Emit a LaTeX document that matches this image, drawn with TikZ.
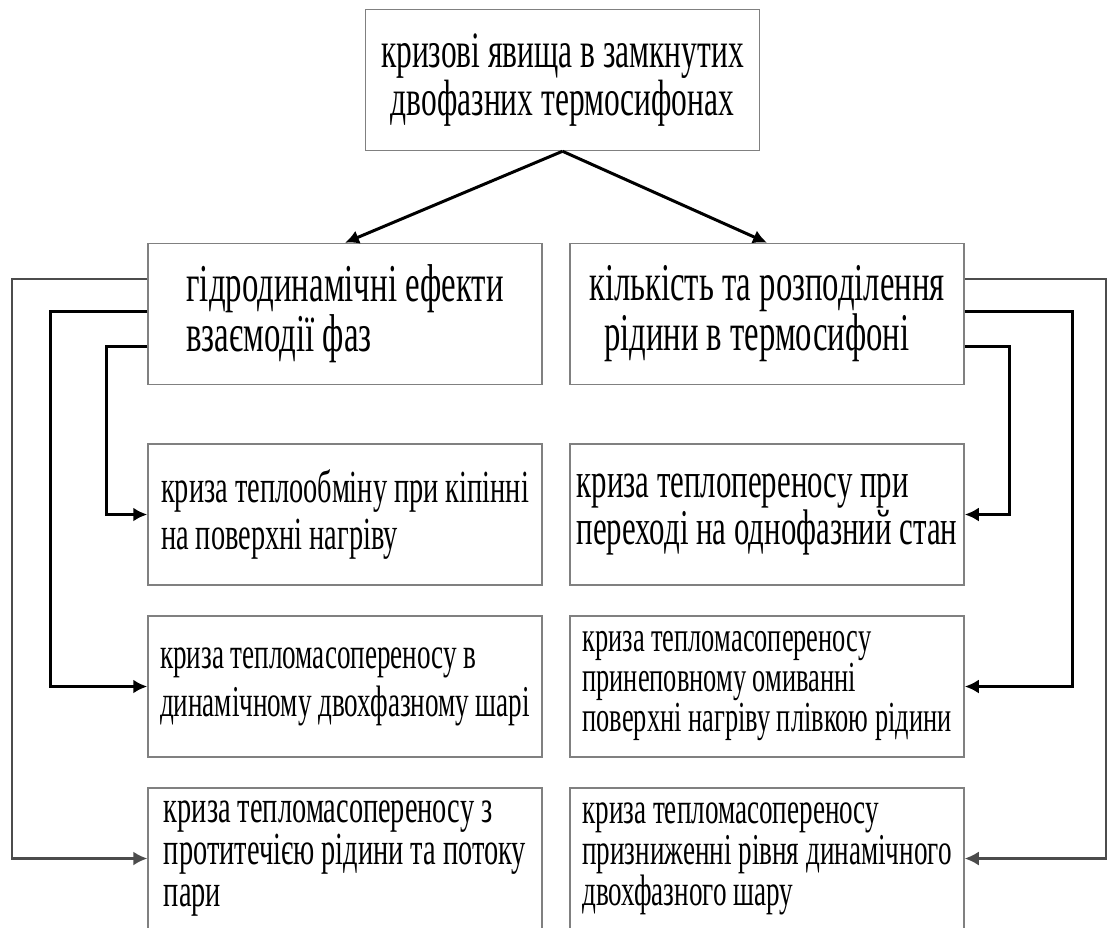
\documentclass[tikz,border=0pt]{standalone}
\usepackage{fontspec}
\setmainfont{Liberation Serif}[FakeStretch=0.617]
\usetikzlibrary{arrows.meta}

\tikzset{
  box/.style={draw=black!50, line width=0.75pt, minimum width=197pt, minimum height=70.5pt, inner sep=0pt, align=left},
  link/.style={line width=1.5pt, -{Latex[length=7pt,width=7pt]}},
  farlink/.style={draw=black!70, line width=1.1pt, -{Latex[length=7pt,width=7pt]}},
}

\begin{document}
\begin{tikzpicture}[x=0.5pt,y=-0.5pt]
            \useasboundingbox (0,0) rectangle (1107,927);

            %boxes
            \node[box, align=center, font=\fontsize{25.5}{20}\selectfont] (top) at (562.5,80) {кризові явища в замкнутих\\двофазних термосифонах};

            \node[box, font=\fontsize{26.6}{20}\selectfont] (hydro) at (345,314) {гідродинамічні ефекти\\взаємодії фаз};

            \node[box, font=\fontsize{26.5}{21}\selectfont] (amount) at (767,314) {кількість та розподілення\\\hspace*{7.5pt}рідини в термосифоні};

            \node[box, font=\fontsize{23}{23.5}\selectfont] (boil) at (345,514.5) {криза теплообміну при кіпінні\\на поверхні нагріву};

            \node[box, font=\fontsize{25}{21}\selectfont] (single) at (767,514.5) {криза теплопереносу при\\переході на однофазний стан};

            \node[box, font=\fontsize{22}{24}\selectfont] (layer) at (345,686.5) {криза тепломасопереносу в\\динамічному двохфазному шарі};

            \node[box, font=\fontsize{21.4}{20}\selectfont] (film) at (767,686.5) {криза тепломасопереносу\\принеповному омиванні\\поверхні нагріву плівкою рідини};

            \node[box, font=\fontsize{23}{21}\selectfont] (counter) at (345,858.5) {криза тепломасопереносу з\\протитечією рідини та потоку\\пари};

            \node[box, font=\fontsize{22}{20.5}\selectfont] (level) at (767,858.5) {криза тепломасопереносу\\призниженні рівня динамічного\\двохфазного шару};

            %links
            \draw[link] (top.south) -- (hydro.north);

            \draw[link] (top.south) -- (amount.north);

            \draw[farlink] ([yshift=17.5pt]hydro.west) -- ++(-135,0) |- (counter.west);

            \draw[link] ([yshift=1.5pt]hydro.west) -- ++(-97,0) |- (layer.west);

            \draw[link] ([yshift=-16pt]hydro.west) -- ++(-41,0) |- (boil.west);

            \draw[farlink] ([yshift=17.5pt]amount.east) -- ++(141,0) |- (level.east);

            \draw[link] ([yshift=1.5pt]amount.east) -- ++(108,0) |- (film.east);

            \draw[link] ([yshift=-16pt]amount.east) -- ++(45,0) |- (single.east);
        \end{tikzpicture}
\end{document}
